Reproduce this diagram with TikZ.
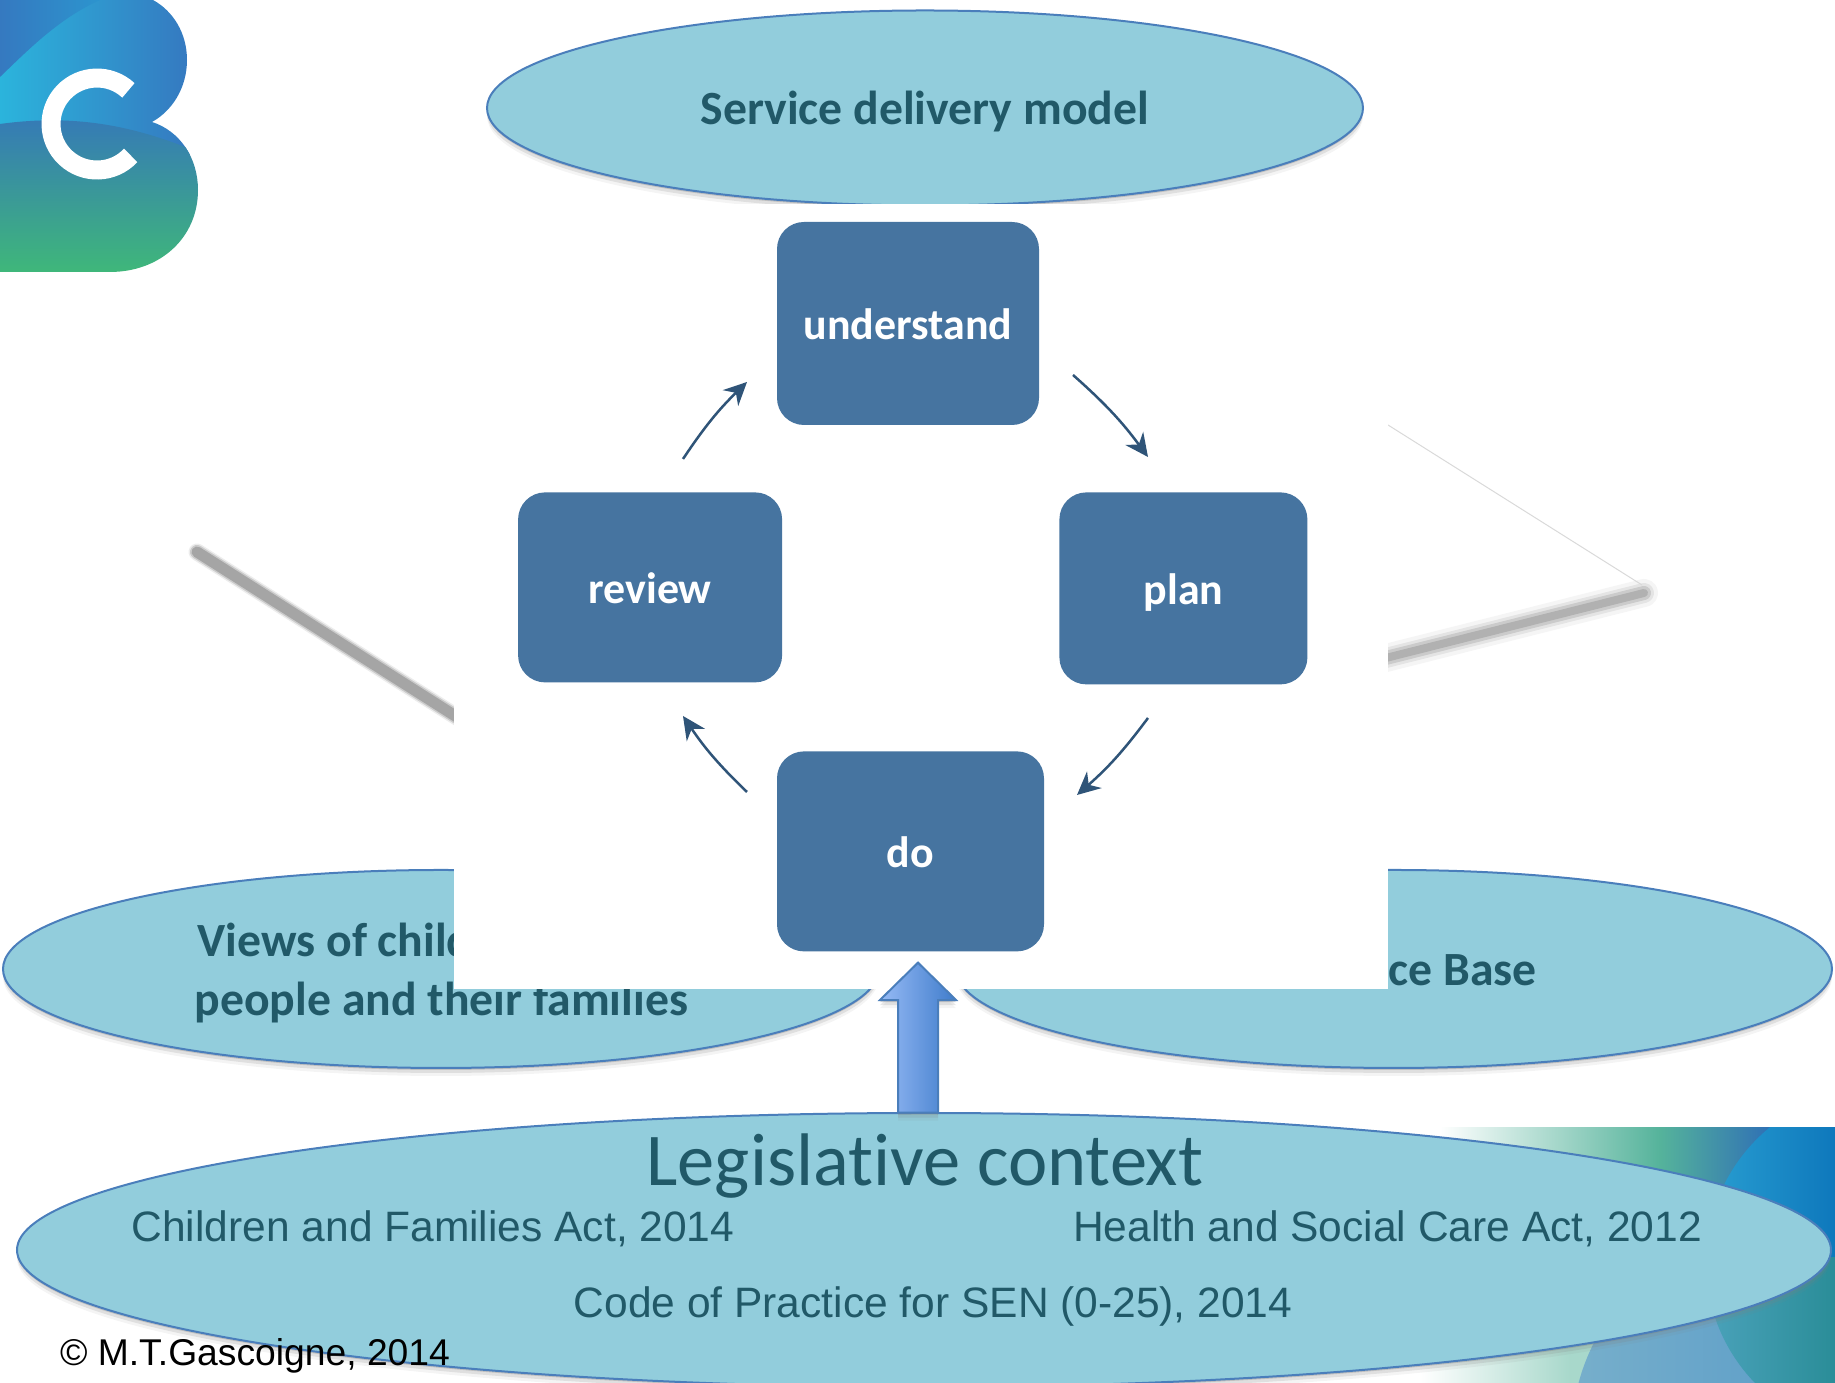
\documentclass[tikz,border=0pt]{standalone}
\usepackage{fontspec}
\usetikzlibrary{shapes,arrows,arrows.meta,positioning,shadows}
\setmainfont[Ligatures=NoCommon]{Carlito}
\newfontfamily\bodyfont{Liberation Sans}
\definecolor{bubblefill}{HTML}{92CDDC}
\definecolor{bubbleline}{HTML}{4A7EBB}
\definecolor{bubbletext}{HTML}{215968}
\definecolor{boxfill}{HTML}{4674A0}
\definecolor{arrowline}{HTML}{2F5478}
\definecolor{logoblue}{HTML}{3579C0}
\definecolor{logocyan}{HTML}{2BB4DC}
\definecolor{logoswoosh}{HTML}{2C94CE}
\definecolor{logogreen}{HTML}{3FB77A}
\definecolor{logosteel}{HTML}{3578B8}
\definecolor{cornergreen}{HTML}{55B39B}
\definecolor{cornerpale}{HTML}{A8D8CB}
\definecolor{cornerblue}{HTML}{2F70B5}
\definecolor{circleleft}{HTML}{2AA0D2}
\definecolor{circleright}{HTML}{0E78BC}
\definecolor{lowerleft}{HTML}{4CA3BC}
\definecolor{lowerright}{HTML}{2A8D98}
\definecolor{roundleft}{HTML}{77AFCB}
\definecolor{roundright}{HTML}{5A9CC8}
\definecolor{arrowleft}{HTML}{96BAF5}
\definecolor{arrowright}{HTML}{3F7CCB}
\tikzstyle{softshadow} = [
    drop shadow={shadow xshift=0cm, shadow yshift=-.02cm, opacity=.33},
    drop shadow={shadow xshift=0cm, shadow yshift=-.05cm, opacity=.18},
    drop shadow={shadow xshift=0cm, shadow yshift=-.08cm, opacity=.09}
]
\tikzstyle{bubble} = [ellipse, softshadow, draw=bubbleline, line width=.02cm, fill=bubblefill, inner sep=0pt]
\tikzstyle{process} = [rectangle, rounded corners=.27cm, fill=boxfill, text=white, inner sep=0pt, text height=.33cm, text depth=0pt, font=\fontsize{12.5}{15}\selectfont\bfseries]
\tikzstyle{arrow} = [draw=arrowline, -{Stealth[length=.23cm, width=.22cm]}, line width=.025cm, bend left=6]
\tikzstyle{heading} = [text=bubbletext, inner sep=0pt, font=\fontsize{13.57}{16.6}\selectfont\bfseries]
\tikzstyle{actname} = [text=bubbletext, inner sep=0pt, font=\bodyfont\fontsize{12.1}{14}\selectfont]
\tikzstyle{uparrow} = [
    single arrow, softshadow, draw=bubbleline, line width=.02cm, left color=arrowleft, right color=arrowright,
    shape border rotate=90, minimum height=1.5cm, inner sep=.19cm, single arrow head extend=.18cm, single arrow tip angle=91
]
\begin{document}
\begin{tikzpicture}
    \useasboundingbox (0,0) rectangle (18.35,13.83);

    \shade[left color=white, right color=cornergreen] (14.4,1.2) rectangle (16.6,2.55);
    \fill[white] (14.2,1.2) rectangle (14.41,2.55);
    \shade[left color=cornergreen, right color=cornerblue] (16.6,1.2) rectangle (17.7,2.55);
    \fill[cornerblue] (17.7,1.2) rectangle (18.35,2.55);
    \shade[left color=white, right color=cornerpale] (14.2,0) rectangle (15.7,1.2);
    \fill[cornerpale] (15.7,0) rectangle (18.35,1.2);
    \begin{scope}
        \clip (17.72,-.51) circle (2);
        \shade[left color=roundleft, right color=roundright] (15.7,0) rectangle (18.35,1.5);
    \end{scope}
    \begin{scope}
        \clip (18.80,1.21) circle (1.74);
        \shade[left color=circleleft, right color=circleright] (17,1.25) rectangle (18.35,2.55);
        \shade[left color=lowerleft, right color=lowerright] (17,0) rectangle (18.35,1.25);
    \end{scope}

    \begin{scope}
        \clip (0,13.83) -- (1.53,13.83) .. controls (1.73,13.72) and (1.87,13.50) .. (1.87,13.23)
            .. controls (1.87,12.95) and (1.72,12.72) .. (1.52,12.61)
            .. controls (1.80,12.52) and (1.98,12.25) .. (1.98,11.93)
            .. controls (1.98,11.45) and (1.60,11.11) .. (1.10,11.11) -- (0,11.11) -- cycle;
        \shade[left color=logocyan, right color=logoblue] (0,12) rectangle (1.9,13.83);
        \shade[left color=logoblue, right color=logoswoosh] (0,13.06) .. controls (.3,13.35) and (.6,13.65) .. (1,13.83) -- (0,13.83) -- cycle;
        \shade[top color=logosteel, bottom color=logogreen] (0,12.59) .. controls (.8,12.70) and (1.4,12.55) .. (2,12.30) -- (2,11.11) -- (0,11.11) -- cycle;
    \end{scope}
    \draw[white, line width=.19cm] (1.284,12.926) arc (47:317:.46);

    \foreach \wd/\op in {.17/.15,.14/.3,.11/.5}
        \draw[gray, opacity=\op, line width=\wd cm, line cap=round] (1.97,8.31) -- (4.6,6.64);
    \foreach \wd/\op in {.28/.08,.2/.15,.14/.25,.08/.35}
        \draw[gray, opacity=\op, line width=\wd cm, line cap=round] (16.44,7.90) -- (13.7,7.21);
    \draw[gray!30, line width=.01cm] (13.88,9.58) -- (16.42,7.98);

    \node[bubble, minimum width=8.76cm, minimum height=1.95cm, heading, text height=.40cm] (service) at (9.25,12.75) {Service delivery model};
    \node[bubble, minimum width=8.76cm, minimum height=1.98cm] (views) at (4.41,4.14) {};
    \node[bubble, minimum width=8.76cm, minimum height=1.98cm] (evidence) at (13.94,4.14) {};
    \node[heading, align=left, anchor=west] (viewslabel) at (1.94,4.10) {\hspace{.03cm}Views of child\\people and their families};
    \node[heading, anchor=west] (evidencelabel) at (13.88,4.13) {ce Base};

    \node[fill=white, inner sep=0pt, minimum width=9.34cm, minimum height=7.85cm] (panel) at (9.21,7.865) {};

    \node[process, minimum width=2.62cm, minimum height=2.03cm] (understand) at (9.08,10.595) {understand};
    \node[process, minimum width=2.64cm, minimum height=1.90cm, below left = .66cm and -.065cm of understand.south west] (review) {review};
    \node[process, minimum width=2.48cm, minimum height=1.92cm, below right = .66cm and .19cm of understand.south east] (plan) {plan};
    \node[process, minimum width=2.67cm, minimum height=2.00cm, below = 3.25cm of understand, xshift=.025cm] (do) {do};

    \coordinate (reviewout) at (6.83,9.24);
    \coordinate (understandin) at (7.47,10.01);
    \coordinate (understandout) at (10.73,10.08);
    \coordinate (planin) at (11.48,9.26);
    \coordinate (planout) at (11.48,6.65);
    \coordinate (doin) at (10.77,5.88);
    \coordinate (doout) at (7.47,5.91);
    \coordinate (reviewin) at (6.83,6.67);

    \path[arrow] (reviewout) to (understandin);
    \path[arrow] (understandout) to (planin);
    \path[arrow] (planout) to (doin);
    \path[arrow] (doout) to (reviewin);

    \node[bubble, minimum width=18.14cm, minimum height=2.74cm] (context) at (9.24,1.33) {};
    \node[uparrow] (lawarrow) at (9.18,3.355) {};

    \node[text=bubbletext, inner sep=0pt, font=\fontsize{21.2}{24}\selectfont] (legislative) at (9.25,2.17) {Legislative context};
    \node[actname] (childact) at (4.33,1.545) {Children and Families Act, 2014};
    \node[actname] (healthact) at (13.875,1.545) {Health and Social Care Act, 2012};
    \node[actname] (code) at (9.33,.765) {Code of Practice for SEN (0-25), 2014};
    \node[inner sep=0pt, font=\bodyfont\fontsize{10.6}{12}\selectfont] (copyright) at (2.55,.275) {© M.T.Gascoigne, 2014};
\end{tikzpicture}
\end{document}
